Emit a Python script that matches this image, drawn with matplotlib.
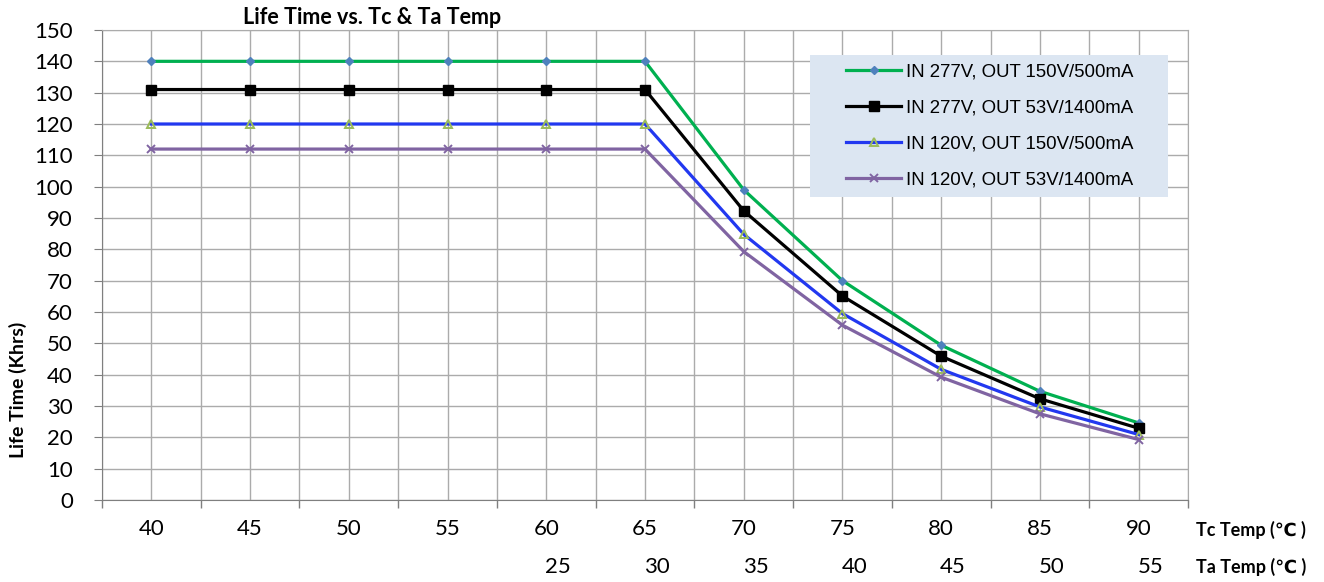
import matplotlib
matplotlib.use("Agg")
import matplotlib.pyplot as plt
from matplotlib.patches import Rectangle

tc_temp = [40, 45, 50, 55, 60, 65, 70, 75, 80, 85, 90]
ta_temp = [25, 30, 35, 40, 45, 50, 55]  # under Tc 60..90

labels = ['IN 277V, OUT 150V/500mA', 'IN 277V, OUT 53V/1400mA',
          'IN 120V, OUT 150V/500mA', 'IN 120V, OUT 53V/1400mA']
life_277_150 = [140, 140, 140, 140, 140, 140, 99, 70, 49.4, 34.7, 24.6]
life_277_53 = [131, 131, 131, 131, 131, 131, 92.3, 65.1, 45.9, 32.3, 22.9]
life_120_150 = [120, 120, 120, 120, 120, 120, 84.8, 59.5, 41.7, 29.7, 20.9]
life_120_53 = [112, 112, 112, 112, 112, 112, 79.3, 55.8, 39.2, 27.5, 19.3]

calibri = ['Lato', 'DejaVu Sans']
arial = ['Liberation Sans', 'DejaVu Sans']

fig = plt.figure(figsize=(13.24, 5.82), dpi=100)
ax = fig.add_axes([102 / 1324, 82 / 582, 1086 / 1324, 470 / 582])

x = list(range(len(tc_temp)))
ax.plot(x, life_277_150, color='#00B050', lw=2.3, marker='D', ms=4.5,
        mfc='#4F81BD', mec='#4F81BD', label=labels[0], zorder=5)
ax.plot(x, life_277_53, color='black', lw=2.3, marker='s', ms=6.5,
        mfc='black', mec='black', label=labels[1], zorder=5)
ax.plot(x, life_120_150, color='#2238F0', lw=2.3, marker='^', ms=5.5,
        mfc='none', mec='#9BBB59', mew=1.4, label=labels[2], zorder=5)
ax.plot(x, life_120_53, color='#8064A2', lw=2.3, marker='x', ms=5.5,
        mec='#8064A2', mew=1.4, label=labels[3], zorder=5)

ax.set_xlim(-0.5, len(tc_temp) - 0.5)
ax.set_ylim(0, 150)
ax.set_yticks(range(0, 151, 10))
ax.set_yticklabels([str(v) for v in range(0, 151, 10)], family=calibri, fontsize=16)

# category boundaries as major ticks, centres as minor ticks with the labels
bounds = [i - 0.5 for i in range(len(tc_temp) + 1)]
ax.set_xticks(bounds)
ax.set_xticklabels([''] * len(bounds))
ax.set_xticks(x, minor=True)
ax.set_xticklabels([str(v) for v in tc_temp], minor=True, family=calibri, fontsize=16)
ax.tick_params(axis='x', which='major', length=6, width=1, color='#7F7F7F')
ax.tick_params(axis='x', which='minor', length=0, pad=14)
ax.tick_params(axis='y', length=6, color='#7F7F7F', pad=15)

ax.grid(True, which='both', color='#ABABAB', lw=1)
ax.set_axisbelow(True)
for s in ax.spines.values():
    s.set_color('#ABABAB')
ax.spines['left'].set_color('#7F7F7F')
ax.spines['bottom'].set_color('#7F7F7F')

# Ta temperature row
for i, t in enumerate(ta_temp):
    ax.text(4 + i + 0.12, -0.143, str(t), transform=ax.get_xaxis_transform(),
            ha='center', va='center', family=calibri, fontsize=16)

fig.text(1196 / 1324, 1 - 530 / 582, 'Tc Temp (℃ )', family=calibri, fontsize=13,
         fontweight='bold', ha='left', va='center')
fig.text(1196 / 1324, 1 - 567 / 582, 'Ta Temp (℃ )', family=calibri, fontsize=13,
         fontweight='bold', ha='left', va='center')

fig.text(372 / 1324, 1 - 18 / 582, 'Life Time vs. Tc & Ta Temp', family=calibri,
         fontsize=15.5, fontweight='bold', ha='center', va='center')
fig.text(18 / 1324, 1 - 390 / 582, 'Life Time (Khrs)', family=calibri, fontsize=14,
         fontweight='bold', rotation=90, ha='center', va='center')

# legend box drawn separately (wide side padding as in the reference)
box = Rectangle((810 / 1324, 1 - 197 / 582), 358 / 1324, 142 / 582,
                transform=fig.transFigure, facecolor='#DCE6F2', edgecolor='none',
                zorder=6)
ax.add_artist(box)
leg = ax.legend(loc='center', bbox_to_anchor=(990 / 1324, 1 - 126 / 582),
                bbox_transform=fig.transFigure, prop={'family': arial, 'size': 13.4},
                frameon=False, handlelength=2.95, labelspacing=1.02,
                handletextpad=0.27, borderpad=0, borderaxespad=0)
leg.set_zorder(7)

fig.savefig('out.png', dpi=100)
